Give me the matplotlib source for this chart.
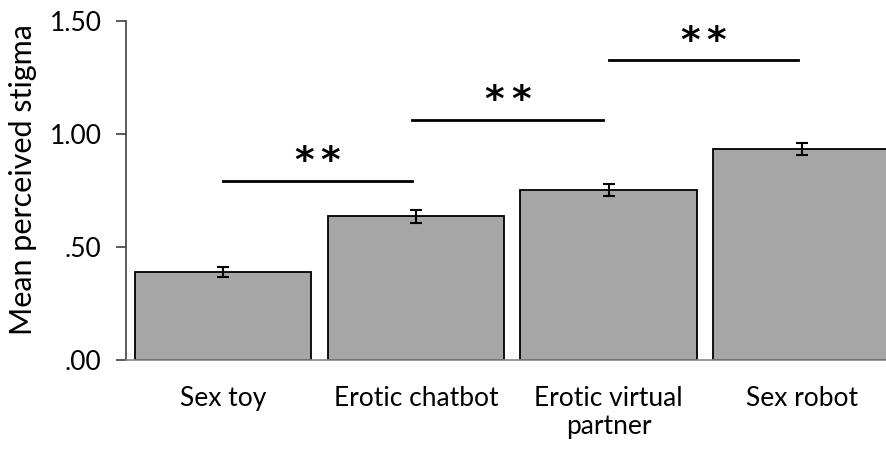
import matplotlib
matplotlib.use("Agg")
import matplotlib.pyplot as plt
import numpy as np

# data
categories = ["Sex toy", "Erotic chatbot", "Erotic virtual\npartner", "Sex robot"]
means = [0.389, 0.635, 0.754, 0.935]
errors = [0.021, 0.028, 0.027, 0.027]

# significance brackets: (start, end, height)
sig_x0 = [0.0, 0.98, 2.0]
sig_x1 = [0.98, 1.97, 2.98]
sig_y = [0.792, 1.064, 1.326]
sig_text = ["*", "*", "*"]

plt.rcParams['font.family'] = ['Lato', 'DejaVu Sans']

fig = plt.figure(figsize=(8.86, 4.5), dpi=100)
ax = fig.add_axes([0.1427, 0.2, 0.871, 0.7533])

x = np.arange(len(categories))
ax.bar(x, means, width=0.915, color='#A6A6A6', edgecolor='black', linewidth=1.3, zorder=2)
ax.errorbar(x, means, yerr=errors, fmt='none', ecolor='black', elinewidth=1.5,
            capsize=4.3, capthick=1.5, zorder=3)

for x0, x1, y, t in zip(sig_x0, sig_x1, sig_y, sig_text):
    ax.plot([x0, x1], [y, y], color='black', linewidth=2, clip_on=False)
    mid = (x0 + x1) / 2
    # two stars, set apart a little
    for dx in (-0.068, 0.068):
        ax.text(mid + dx, y + 0.039, t, ha='center', va='baseline', fontsize=27,
                family='DejaVu Sans', fontweight='bold', clip_on=False)

ax.set_xlim(-0.5, 3.5)
ax.set_ylim(0, 1.5)
ax.set_yticks([0, 0.5, 1.0, 1.5])
ax.set_yticklabels(['.00', '.50', '1.00', '1.50'])
ax.set_xticks(x)
ax.set_xticklabels(categories, linespacing=1.14)
ax.tick_params(axis='y', length=7, width=1.2, labelsize=19, pad=11, color='#404040')
ax.tick_params(axis='x', length=0, labelsize=19, pad=19)
ax.set_ylabel('Mean perceived stigma', fontsize=22)
ax.yaxis.set_label_coords(-0.1159, 0.531)

ax.spines['top'].set_visible(False)
ax.spines['right'].set_visible(False)
ax.spines['left'].set_color('#404040')
ax.spines['left'].set_linewidth(1.2)
ax.spines['bottom'].set_color('#868686')
ax.spines['bottom'].set_linewidth(1.2)

fig.savefig('out.png', dpi=100)
